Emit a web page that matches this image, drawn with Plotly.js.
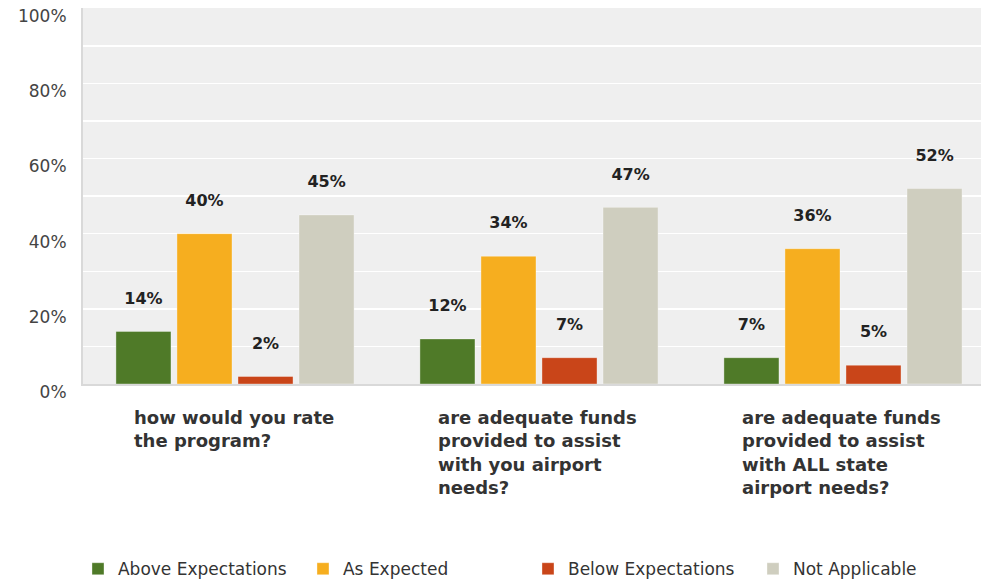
<!DOCTYPE html>
<html>
<head>
<meta charset="utf-8">
<script src="https://cdn.plot.ly/plotly-3.0.1.min.js"></script>
<style>html,body{margin:0;padding:0;background:#fff;}#chart{width:981px;height:582px;}</style>
</head>
<body>
<div id="chart"></div>
<script>
// Categories (questions)
const categories = [
  'how would you rate the program?',
  'are adequate funds provided to assist with you airport needs?',
  'are adequate funds provided to assist with ALL state airport needs?'
];
const categoryLabels = [
  'how would you rate<br>the program?',
  'are adequate funds<br>provided to assist<br>with you airport<br>needs?',
  'are adequate funds<br>provided to assist<br>with ALL state<br>airport needs?'
];
// Series values (%)
const seriesNames = ['Above Expectations', 'As Expected', 'Below Expectations', 'Not Applicable'];
const aboveExpectations = [14, 12, 7];
const asExpected = [40, 34, 36];
const belowExpectations = [2, 7, 5];
const notApplicable = [45, 47, 52];
const seriesColors = ['#4f7a28', '#f6ae1f', '#c94519', '#cfcebf'];
// Y tick labels
const yTickVals = [0, 10, 20, 30, 40, 50, 60, 70, 80, 90, 100];
const yTickText = ['0%', '', '20%', '', '40%', '', '60%', '', '80%', '', '100%'];

const seriesValues = [aboveExpectations, asExpected, belowExpectations, notApplicable];

const traces = seriesValues.map((vals, i) => ({
  type: 'bar',
  name: seriesNames[i],
  x: categories,
  y: vals,
  marker: { color: seriesColors[i], line: { color: 'rgba(255,255,255,0.35)', width: 1 } },
  text: vals.map(v => v + '%<br>\u00a0'),
  textposition: 'outside',
  constraintext: 'none',
  cliponaxis: false,
  textfont: { family: 'DejaVu Sans', size: 16, color: '#222', weight: 'bold' },
  hoverinfo: 'skip'
}));

const annotations = categories.map((c, i) => ({
  x: c,
  xref: 'x',
  y: 0,
  yref: 'paper',
  xanchor: 'left',
  yanchor: 'top',
  xshift: -103,
  yshift: -21,
  align: 'left',
  showarrow: false,
  text: categoryLabels[i],
  font: { family: 'DejaVu Sans', size: 18, color: '#333', weight: 'bold' }
}));

const layout = {
  width: 981,
  height: 582,
  margin: { l: 83, r: 0, t: 8, b: 198 },
  paper_bgcolor: '#ffffff',
  plot_bgcolor: '#efefef',
  barmode: 'group',
  bargap: 0.197,
  bargroupgap: 0.098,
  showlegend: true,
  legend: {
    orientation: 'h',
    xref: 'container',
    yref: 'container',
    x: 0.0795,
    y: 0.022,
    xanchor: 'left',
    yanchor: 'middle',
    entrywidth: 180,
    font: { family: 'DejaVu Sans', size: 17, color: '#333' },
    traceorder: 'normal'
  },
  xaxis: {
    type: 'category',
    range: [-0.5, 2.454],
    showticklabels: false,
    ticks: '',
    showgrid: false,
    showline: true,
    linecolor: '#d9d9d9',
    linewidth: 2,
    fixedrange: true
  },
  yaxis: {
    range: [0, 100.05],
    tickvals: yTickVals,
    ticktext: yTickText,
    ticks: '',
    showgrid: true,
    gridcolor: '#ffffff',
    gridwidth: 1.5,
    zeroline: false,
    showline: true,
    linecolor: '#d9d9d9',
    linewidth: 2,
    ticklabelstandoff: 11,
    ticklabelshift: 8,
    tickfont: { family: 'DejaVu Sans', size: 17, color: '#444' },
    fixedrange: true
  },
  annotations: annotations
};

Plotly.newPlot('chart', traces, layout, { displayModeBar: false, staticPlot: true });
</script>
</body>
</html>
